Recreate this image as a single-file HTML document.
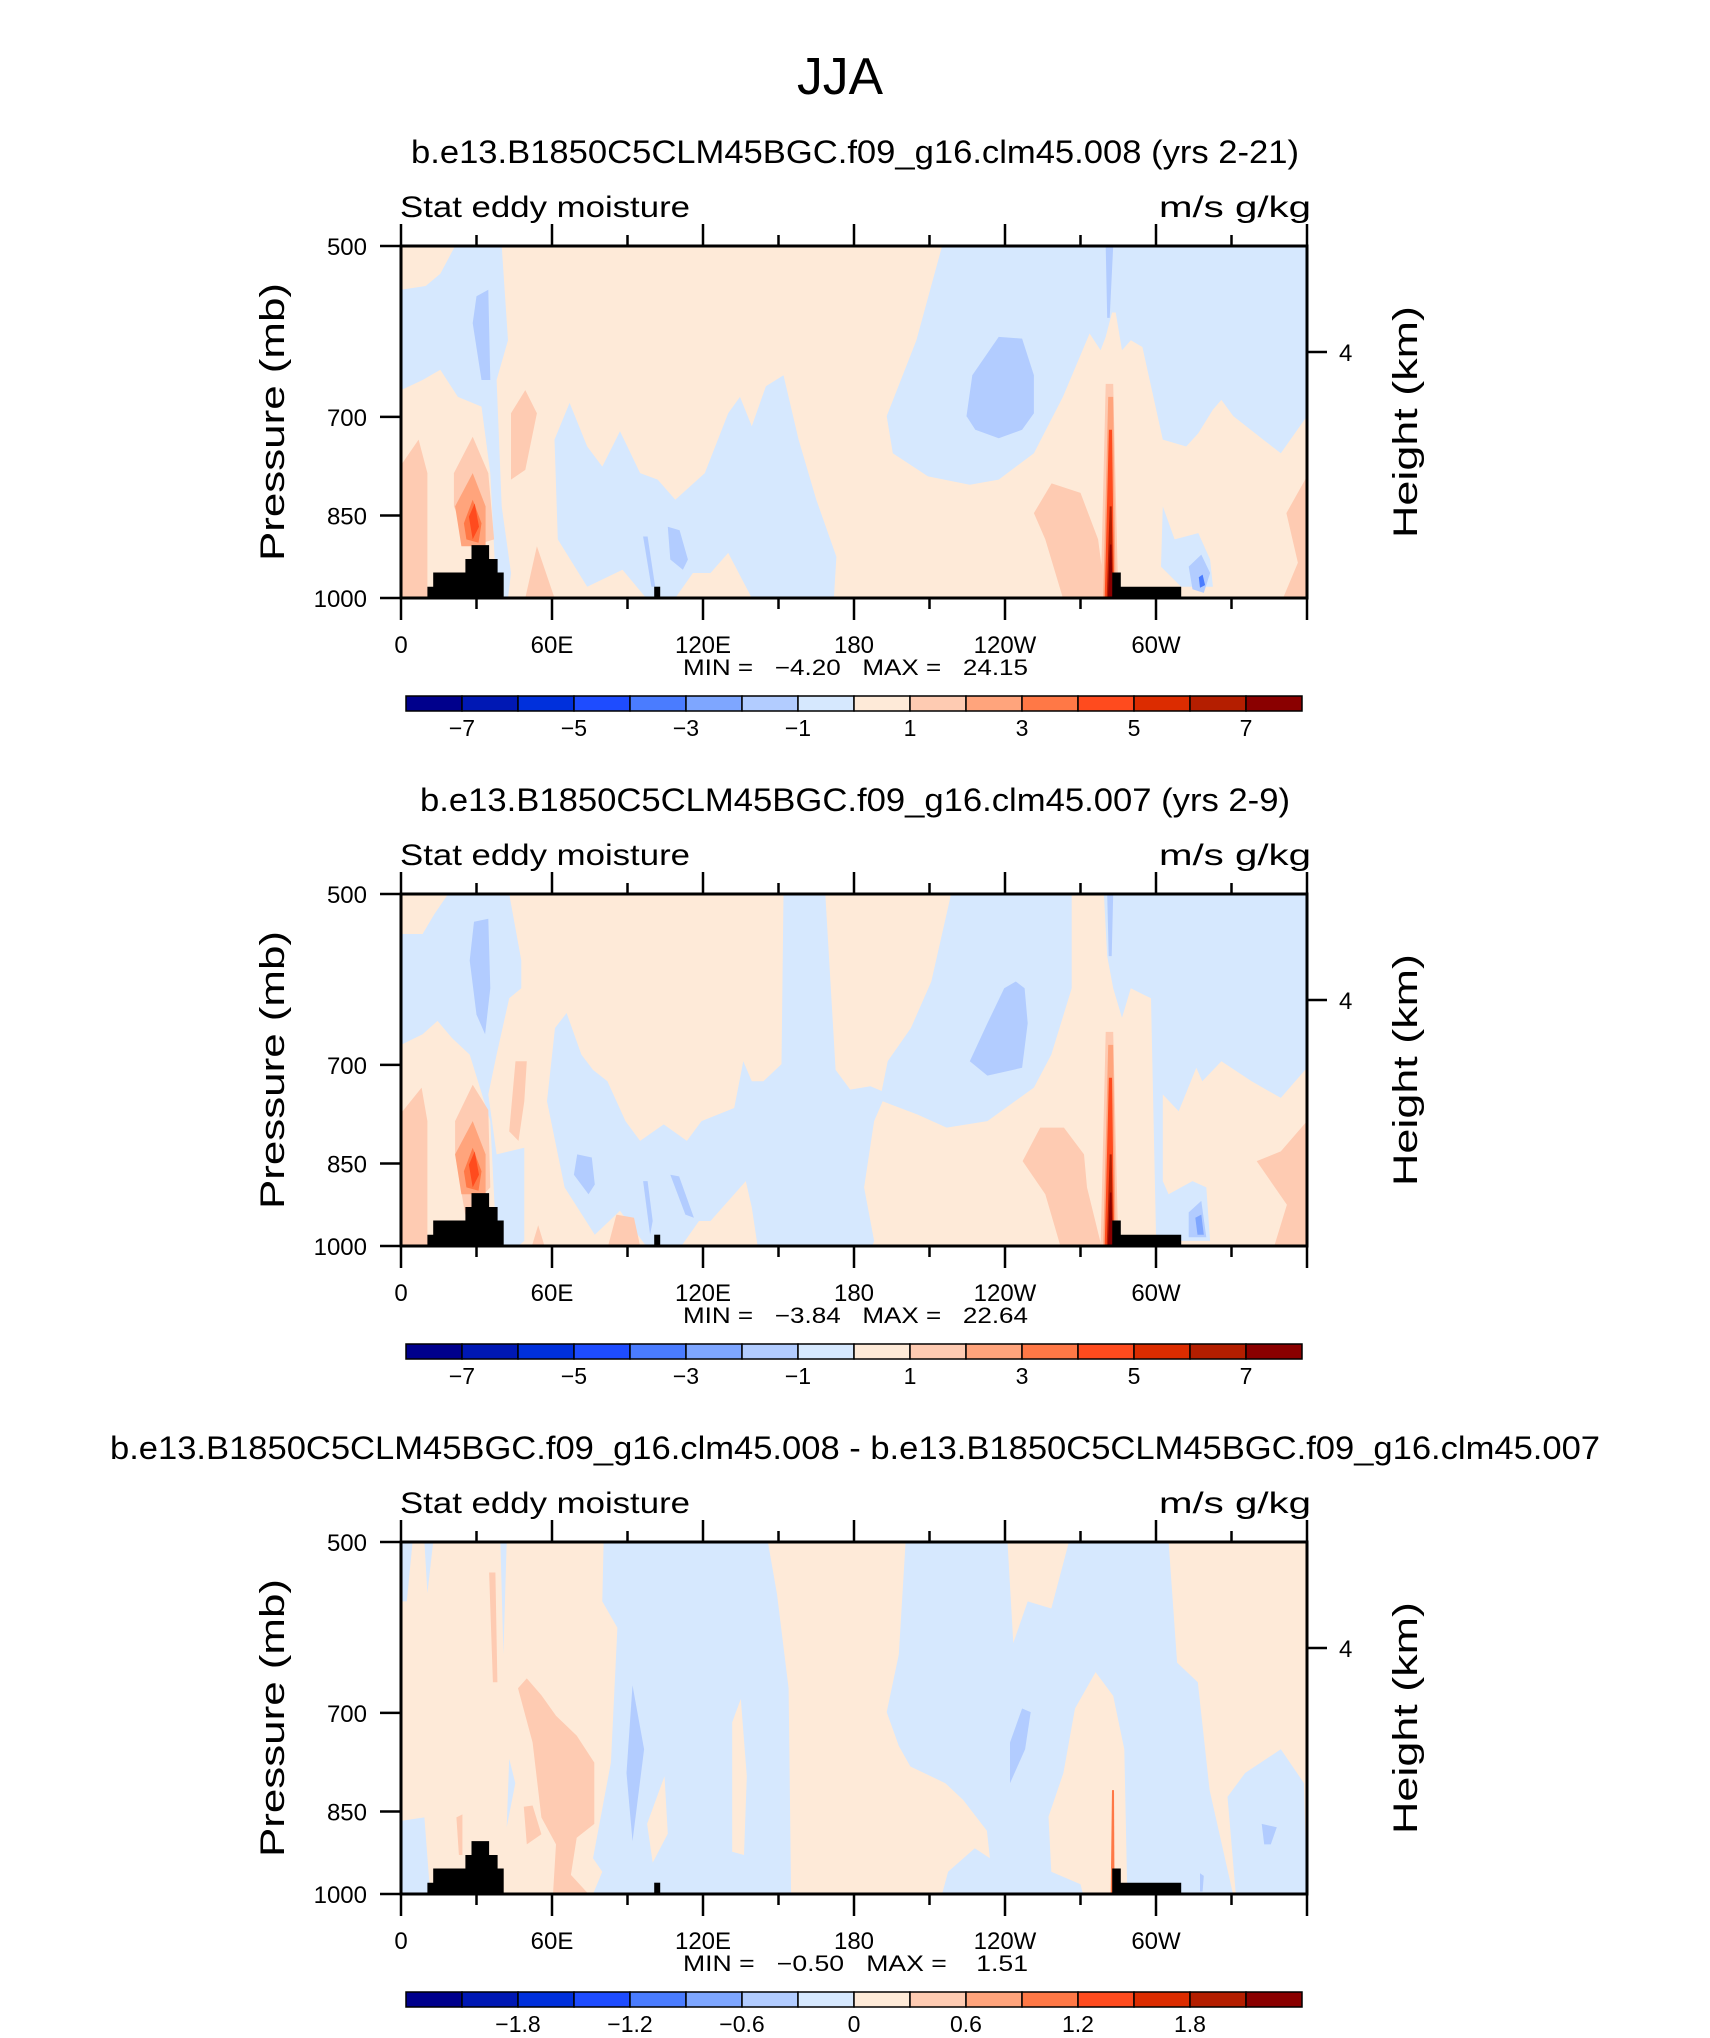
<!DOCTYPE html>
<html><head><meta charset="utf-8"><style>
html,body{margin:0;padding:0;background:#fff;}
svg{display:block;}
text{font-family:"Liberation Sans",sans-serif;fill:#000;}
</style></head><body>
<svg id="fig" xmlns="http://www.w3.org/2000/svg" width="1710" height="2038" viewBox="0 0 1710 2038">
<rect width="1710" height="2038" fill="#fff"/>
<text x="840" y="94" font-size="52" text-anchor="middle" textLength="86" lengthAdjust="spacingAndGlyphs" fill="#222">JJA</text>
</svg>
<script>
const lonTicks=[0,30,60,90,120,150,180,210,240,270,300,330,360];
const lonMajor=[0,60,120,180,240,300,360];
const lonLabels=['0','60E','120E','180','120W','60W',''];
const pTicks=[500,700,850,1000];
const pLabels=['500','700','850','1000'];
const hTicksP=[616];
const hLabels=['4'];
const palette=['#00008c','#0018b4','#0030dc','#1e4cff','#4a7cff','#7ea6ff','#b2ccff','#d6e8fe','#feead8','#fecbb2','#ffa47c','#ff7846','#ff4b1e','#dc2c00','#b41e00','#8a0000'];
const cbLabels1=['−7','−5','−3','−1','1','3','5','7'];
const cbLabelPos1=[1,3,5,7,9,11,13,15];
const cbLabels3=['−1.8','−1.2','−0.6','0','0.6','1.2','1.8'];
const cbLabelPos3=[2,4,6,8,10,12,14];
const titles=['b.e13.B1850C5CLM45BGC.f09_g16.clm45.008 (yrs 2-21)','b.e13.B1850C5CLM45BGC.f09_g16.clm45.007 (yrs 2-9)','b.e13.B1850C5CLM45BGC.f09_g16.clm45.008 - b.e13.B1850C5CLM45BGC.f09_g16.clm45.007'];
const minVals=['−4.20','−3.84','−0.50'];
const maxVals=['24.15','22.64',' 1.51'];
const topo=[
 [[10.5,1000],[10.5,978],[12.8,978],[12.8,951],[25.6,951],[25.6,926],[28,926],[28,901],[35,901],[35,926],[38.4,926],[38.4,951],[40.8,951],[40.8,1000]],
 [[100.6,1000],[100.6,978],[103,978],[103,1000]],
 [[282.6,1000],[282.6,951],[286,951],[286,978],[310,978],[310,1000]]
];
const spike=[
 {l:9,pts:[[278,1000],[280,656],[283,656],[285,1000]]},
 {l:10,pts:[[279,1000],[281,673],[283,673],[284,1000]]},
 {l:12,pts:[[279.6,1000],[281.3,718],[282.5,718],[283.4,1000]]},
 {l:14,pts:[[280.4,1000],[281.6,835],[282.4,835],[283,1000]]},
 {l:15,pts:[[280.9,1000],[281.7,900],[282.3,900],[282.7,1000]]}
];
const leftRed=[
 {l:10,pts:[[21.5,835],[28.5,782],[33.6,835],[33.6,903],[24,903]]},
 {l:11,pts:[[25,863],[28.5,824],[32,863],[30.8,897],[26,891]]},
 {l:12,pts:[[27,852],[29.3,830],[31,869],[28.5,891]]}
];
const panel1=[
 {l:7,pts:[[21.5,500],[40,500],[42.5,602],[38,651],[40,835],[43.7,952],[42.5,1000],[38,1000],[35.5,782],[32,686],[22.6,673],[15.6,638],[8.6,651],[0,664],[0,545],[9.8,541],[15.6,528]]},
 {l:7,pts:[[67,681],[74,742],[80,772],[87,720],[95,782],[102,792],[109,824],[120.7,782],[130,695],[134.7,673],[139.4,713],[145,659],[152,645],[158,732],[165,824],[173,922],[172,1000],[139.4,1000],[130,915],[123,952],[116,952],[109,1000],[97.4,1000],[88,946],[74,978],[62.3,891],[61,732]]},
 {l:7,pts:[[215,500],[360,500],[360,699],[349.6,752],[342.6,732],[330.7,699],[326,677],[322.6,690],[316.8,723],[312,742],[302.7,732],[294.6,610],[290,602],[286.5,614],[284,570],[282.5,570],[280,598],[278,614],[273.6,594],[263,673],[251.5,752],[237.5,792],[226,800],[209.4,787],[195.4,752],[193,699],[204.8,602]]},
 {l:7,pts:[[302.7,835],[307.4,891],[316.8,880],[321.5,927],[322.6,978],[310,978],[302,940]]},
 {l:6,pts:[[30,552],[34.7,545],[35.5,651],[32,651],[28.5,582]]},
 {l:6,pts:[[237.5,598],[246.8,600],[251.5,645],[251.5,695],[246.8,718],[237.5,730],[228.2,718],[224.7,699],[227,645]]},
 {l:6,pts:[[280,500],[283,500],[281.6,576],[280.6,576]]},
 {l:6,pts:[[106,869],[110.7,875],[114,927],[112,946],[107,927]]},
 {l:6,pts:[[96.2,886],[98,886],[101,978],[99.5,978]]},
 {l:6,pts:[[313,940],[318,918],[321.5,952],[319,990],[314.5,983]]},
 {l:4,pts:[[317,960],[318.5,955],[319.5,975],[317.5,980]]},
 {l:9,pts:[[0,770],[7,732],[10.5,782],[10.5,1000],[0,1000]]},
 {l:9,pts:[[21,782],[28.5,728],[34.7,782],[37,891],[28,903],[21,835]]},
 {l:9,pts:[[43.7,695],[49.4,664],[54,695],[49.4,777],[43.7,792]]},
 {l:9,pts:[[251.5,846],[258.5,798],[270,813],[277,891],[280,1000],[263,1000],[256,891]]},
 {l:9,pts:[[351.8,846],[360,787],[360,1000],[350.5,1000],[356.4,933]]},
 {l:9,pts:[[49.4,1000],[54,903],[61,1000]]}
];
const panel2=[
 {l:7,pts:[[18.7,500],[43,500],[47.8,570],[47.8,602],[43,614],[38,686],[34.7,742],[38,835],[49,824],[49,990],[46.7,1000],[38,1000],[35.5,782],[27.3,686],[20.3,664],[14.5,642],[8.6,659],[0,673],[0,541],[8.6,541],[13.3,520]]},
 {l:7,pts:[[152,500],[168.6,500],[172.7,707],[178.5,735],[186.5,730],[191,737],[193.4,695],[202.6,651],[210.7,594],[218.6,500],[266.5,500],[266.5,602],[258.4,686],[251.5,732],[233,782],[216.8,792],[205.3,772],[191.4,752],[188,782],[184,891],[188,990],[187.3,1000],[141.7,1000],[139.4,927],[137,880],[132.4,903],[123,952],[118.4,952],[111.4,1000],[97.4,1000],[87,933],[77,978],[65,891],[58,752],[61.2,651],[65.8,632],[71.7,686],[76.3,707],[82,723],[89.2,782],[95,813],[104.4,787],[113.6,813],[119.4,782],[132.4,762],[136,695],[139.4,723],[144,723],[151.2,699]]},
 {l:7,pts:[[279.3,500],[360,500],[360,704],[349.6,747],[338,723],[326,695],[318.4,723],[316,704],[309,767],[302.7,742],[302.7,880],[305,903],[314.5,880],[320,891],[321.5,990],[310,990],[300,978],[298,614],[290,602],[286.5,638],[283,602],[280.6,565]]},
 {l:6,pts:[[280.6,500],[283,500],[282.4,565],[281.2,565]]},
 {l:6,pts:[[29,528],[34.7,525],[35.5,602],[33.4,659],[30,634],[27.3,570]]},
 {l:6,pts:[[244.3,594],[247.8,602],[249,645],[246.8,704],[233,715],[226,695],[233,645],[239.7,602]]},
 {l:6,pts:[[70,835],[75.8,840],[77,886],[74.5,903],[68.7,869]]},
 {l:6,pts:[[107,869],[110.5,872],[116.4,946],[113,940]]},
 {l:6,pts:[[96.2,880],[98,880],[100,952],[99,978]]},
 {l:6,pts:[[313,936],[318,915],[320,983],[313,983]]},
 {l:5,pts:[[315.6,946],[318,940],[319,978],[316.5,978]]},
 {l:9,pts:[[0,770],[8.2,732],[10.5,782],[10.5,1000],[0,1000]]},
 {l:9,pts:[[21.5,782],[28.5,728],[34.7,765],[35.5,891],[25.5,940],[21.5,835]]},
 {l:9,pts:[[45.5,695],[50,695],[49,752],[46.7,813],[43,798]]},
 {l:9,pts:[[247,846],[254,792],[263.4,792],[271.4,835],[272.6,891],[278.3,1000],[262,1000],[256,903]]},
 {l:9,pts:[[340,846],[349.6,830],[360,782],[360,1000],[347,1000],[352,922]]},
 {l:9,pts:[[82.3,1000],[85.6,940],[92.6,946],[95,1000]]},
 {l:9,pts:[[52,1000],[54.5,960],[57,1000]]}
];
const panel3=[
 {l:7,pts:[[80.5,500],[145.8,500],[149.4,554],[154,667],[155,1000],[76.3,1000],[80,957],[76.3,932],[83.4,772],[86,592],[80,562]]},
 {l:8,pts:[[135,681],[137.4,793],[136.3,926],[131.6,920],[131.6,713]]},
 {l:8,pts:[[97.8,871],[104.7,793],[106,888],[100,940]]},
 {l:7,pts:[[200.5,500],[241,500],[243.3,610],[249,562],[258.4,570],[265.4,500],[305,500],[308.4,634],[316.6,659],[321.3,815],[330.6,1000],[288.6,1000],[287.4,752],[283,677],[276,646],[267.8,694],[263.2,788],[257.3,859],[258.4,957],[270,981],[271,1000],[215,1000],[217.4,957],[228,914],[234,932],[232.8,883],[223.4,831],[216.3,804],[202.4,778],[197.8,747],[193,699],[197.8,624]]},
 {l:7,pts:[[328.4,826],[335.4,788],[349.6,752],[358.8,804],[360,1000],[331.7,1000]]},
 {l:7,pts:[[0,500],[4.6,500],[2.3,562],[0,562]]},
 {l:7,pts:[[9.3,500],[12.8,500],[10.5,553]]},
 {l:7,pts:[[0,866],[9.3,860],[11.6,1000],[0,1000]]},
 {l:7,pts:[[39.5,500],[42,500],[40.7,624]]},
 {l:7,pts:[[43,766],[45.4,804],[42,877]]},
 {l:6,pts:[[92,663],[96.6,752],[92,901],[89.6,788]]},
 {l:6,pts:[[242,742],[246.8,694],[250.2,699],[248,752],[242,804]]},
 {l:6,pts:[[342,871],[348,877],[345.6,907],[343,907]]},
 {l:6,pts:[[317.5,960],[319,965],[318.5,995],[317.5,995]]},
 {l:9,pts:[[35,531],[37.5,531],[38.3,659],[36.5,659]]},
 {l:9,pts:[[46.5,667],[50,654],[55.8,676],[61.6,704],[69.8,732],[76.8,772],[76.8,871],[69.8,895],[67.5,963],[74.5,1000],[60.4,1000],[61.6,907],[55.8,860],[52.3,742]]},
 {l:9,pts:[[48.8,842],[52.3,840],[55.8,889],[50,907]]},
 {l:9,pts:[[22,860],[24.4,855],[24.4,926],[23,926]]},
 {l:11,pts:[[282,1000],[282.5,815],[283.3,815],[283.5,1000]]}
];
const panels=[panel1,panel2,panel3];
const panelOffsets=[0,648,1296];
const NS='http://www.w3.org/2000/svg';
const svg=document.getElementById('fig');
const L=401,W=906,T0=246,H=352;
function xs(lon){return L+W*lon/360;}
function ys(p,off){return T0+off+H*Math.log(p/500)/Math.LN2;}
function mk(tag,attrs,parent){const e=document.createElementNS(NS,tag);for(const k in attrs)e.setAttribute(k,attrs[k]);(parent||svg).appendChild(e);return e;}
function ptsStr(pts,off){return pts.map(q=>xs(q[0]).toFixed(1)+','+ys(q[1],off).toFixed(1)).join(' ');}

panels.forEach((regs,i)=>{
 const off=panelOffsets[i];
 const g=mk('g',{});
 
 
 const t=mk('text',{x:855,y:163+off,'font-size':32,'text-anchor':'middle',textLength:(i==0?888:(i==1?870:1490)),lengthAdjust:'spacingAndGlyphs'},g);
 t.textContent=titles[i];
 
 
 const s1=mk('text',{x:400,y:217+off,'font-size':30,textLength:290,lengthAdjust:'spacingAndGlyphs'},g);
 s1.textContent='Stat eddy moisture';
 
 
 const s2=mk('text',{x:1159,y:217+off,'font-size':30,textLength:152,lengthAdjust:'spacingAndGlyphs'},g);
 s2.textContent='m/s g/kg';
 
 
 const cp=mk('clipPath',{id:'clip'+i},g);
 mk('rect',{x:L,y:T0+off,width:W,height:H},cp);
 const field=mk('g',{'clip-path':'url(#clip'+i+')'},g);
 
 
 mk('rect',{x:L,y:T0+off,width:W,height:H,fill:palette[8]},field);
 const all=regs.concat(i<2?leftRed:[]).concat(i<2?spike:[]);
 all.forEach(r=>{
  const pg=mk('polygon',{points:ptsStr(r.pts,off),fill:palette[r.l]},field);
  
  
 });
 topo.forEach(tp=>{
  const pg=mk('polygon',{points:ptsStr(tp,off),fill:'#000'},field);
  
  
 });
 const fr=mk('rect',{x:L,y:T0+off,width:W,height:H,fill:'none',stroke:'#000','stroke-width':3},g);
 
 
 lonTicks.forEach(lon=>{
  const major=lonMajor.indexOf(lon)>=0;const len=major?22:11;const x=xs(lon);
  const a=mk('line',{x1:x,x2:x,y1:T0+off+H,y2:T0+off+H+len,stroke:'#000','stroke-width':2.5},g);
  
  
  const b=mk('line',{x1:x,x2:x,y1:T0+off,y2:T0+off-len,stroke:'#000','stroke-width':2.5},g);
  
  
 });
 lonMajor.forEach((lon,j)=>{
  if(!lonLabels[j])return;
  const tl=mk('text',{x:xs(lon),y:653+off,'font-size':24,'text-anchor':'middle'},g);
  tl.textContent=lonLabels[j];
  
  
 });
 pTicks.forEach((p,j)=>{
  const y=ys(p,off);
  const a=mk('line',{x1:L-21,x2:L,y1:y,y2:y,stroke:'#000','stroke-width':2.5},g);
  
  
  const tl=mk('text',{x:367,y:y+9,'font-size':24,'text-anchor':'end'},g);
  tl.textContent=pLabels[j];
  
  
 });
 hTicksP.forEach((p,j)=>{
  const y=ys(p,off);
  const a=mk('line',{x1:L+W,x2:L+W+20,y1:y,y2:y,stroke:'#000','stroke-width':2.5},g);
  
  
  const tl=mk('text',{x:1339,y:y+9,'font-size':24},g);
  tl.textContent=hLabels[j];
  
  
 });
 const py=T0+off+H/2;
 const yl=mk('text',{x:0,y:0,'font-size':34,'text-anchor':'middle',textLength:278,lengthAdjust:'spacingAndGlyphs',transform:'translate(284,'+py+') rotate(-90)'},g);
 yl.textContent='Pressure (mb)';
 
 
 const hl=mk('text',{x:0,y:0,'font-size':34,'text-anchor':'middle',textLength:232,lengthAdjust:'spacingAndGlyphs',transform:'translate(1417,'+py+') rotate(-90)'},g);
 hl.textContent='Height (km)';
 
 
 const mm=mk('text',{x:683,y:675+off,'font-size':22,textLength:345,lengthAdjust:'spacingAndGlyphs','xml:space':'preserve'},g);
 mm.setAttribute('style','white-space:pre');
 mm.textContent='MIN =   '+minVals[i]+'   MAX =   '+maxVals[i];
 
 
 const cb=mk('g',{},g);
 
 
 const cbx=406,cbw=896/16,cby=696+off,cbh=15;
 palette.forEach((c,k)=>{
  const r=mk('rect',{x:cbx+k*cbw,y:cby,width:cbw,height:cbh,fill:c,stroke:'#000','stroke-width':1.5},cb);
  
  
 });
 const labs=i<2?cbLabels1:cbLabels3, pos=i<2?cbLabelPos1:cbLabelPos3;
 labs.forEach((s,k)=>{
  const tl=mk('text',{x:cbx+pos[k]*cbw,y:736+off,'font-size':23,'text-anchor':'middle'},cb);
  tl.textContent=s;
  
  
 });
});
</script>
</body></html>
